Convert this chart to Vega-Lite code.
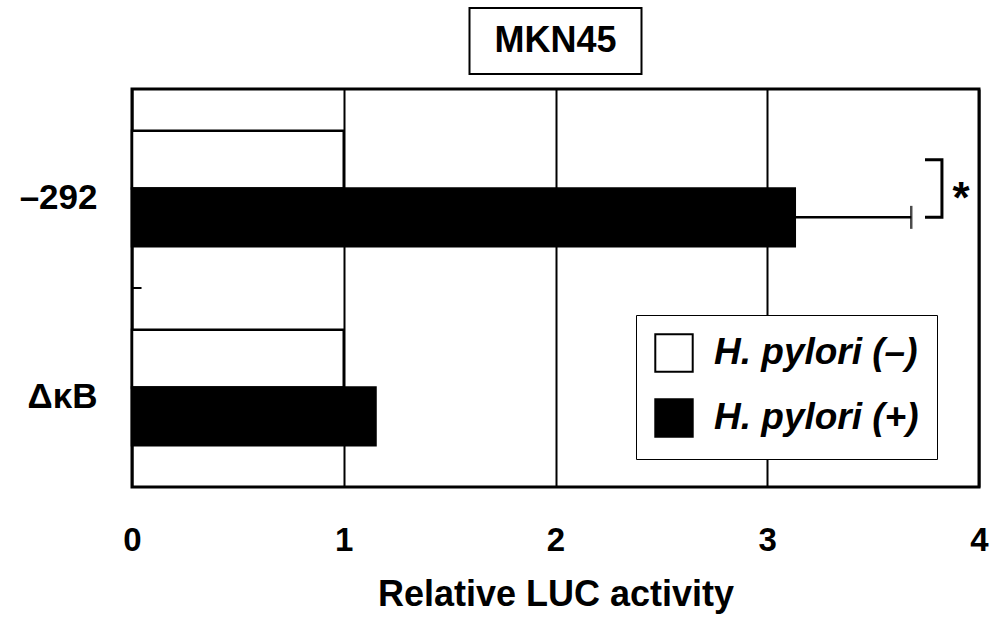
{
  "$schema": "https://vega.github.io/schema/vega-lite/v6.json",
  "padding": {"top": 7, "left": 17, "right": 5, "bottom": 5},
  "background": "white",
  "bounds": "flush",
  "center": true,
  "spacing": 15,
  "config": {
    "font": "Liberation Sans",
    "axis": {"labelFont": "Liberation Sans", "titleFont": "Liberation Sans", "labelColor": "black", "titleColor": "black"},
    "legend": {"labelFont": "Liberation Sans"}
  },
  "datasets": {
    "bars": [
      {"construct": "–292", "hp": "H. pylori (–)", "value": 1.0},
      {"construct": "–292", "hp": "H. pylori (+)", "value": 3.13, "upper": 3.68},
      {"construct": "ΔκB", "hp": "H. pylori (–)", "value": 1.0},
      {"construct": "ΔκB", "hp": "H. pylori (+)", "value": 1.15}
    ],
    "bracket": [
      {"construct": "–292", "hp": "H. pylori (–)", "x": 3.745, "ord": 1},
      {"construct": "–292", "hp": "H. pylori (–)", "x": 3.825, "ord": 2},
      {"construct": "–292", "hp": "H. pylori (+)", "x": 3.825, "ord": 3},
      {"construct": "–292", "hp": "H. pylori (+)", "x": 3.745, "ord": 4}
    ],
    "star": [{"construct": "–292", "x": 3.915, "label": "*"}],
    "midtick": [{"construct": "ΔκB"}],
    "title": [{"label": "MKN45"}]
  },
  "vconcat": [
    {
      "width": 172,
      "height": 66,
      "view": {"stroke": "black", "strokeWidth": 2, "fill": "white"},
      "data": {"name": "title"},
      "mark": {"type": "text", "fontSize": 36, "fontWeight": "bold", "font": "Liberation Sans", "align": "center", "baseline": "middle", "color": "black"},
      "encoding": {"text": {"field": "label"}}
    },
    {
      "width": 847,
      "height": 398,
      "view": {"stroke": "black", "strokeWidth": 3},
      "encoding": {
        "y": {
          "field": "construct", "type": "nominal",
          "scale": {"domain": ["–292", "ΔκB"], "paddingInner": 0, "paddingOuter": 0},
          "axis": {"title": null, "ticks": false, "tickSize": 0, "domain": false, "labelPadding": 35, "labelFontSize": 35, "labelFontWeight": "bold", "labelOffset": 9, "labelBaseline": "middle", "labelAngle": 0}
        }
      },
      "layer": [
        {
          "data": {"name": "bars"},
          "mark": {"type": "bar", "stroke": "black", "strokeWidth": 2.5},
          "encoding": {
            "x": {
              "field": "value", "type": "quantitative",
              "scale": {"domain": [0, 4], "nice": false, "zero": true},
              "axis": {"title": "Relative LUC activity", "values": [0, 1, 2, 3, 4], "format": "d", "grid": true, "gridColor": "black", "gridWidth": 2, "gridOpacity": 1, "ticks": false, "tickSize": 0, "domain": false, "labelPadding": 37, "labelFontSize": 33, "labelFontWeight": "bold", "labelFlush": false, "titleFontSize": 36, "titleFontWeight": "bold", "titlePadding": 20}
            },
            "yOffset": {"field": "hp", "type": "nominal", "scale": {"domain": ["H. pylori (–)", "H. pylori (+)"], "paddingInner": 0, "paddingOuter": 0.724}},
            "fill": {
              "field": "hp", "type": "nominal",
              "scale": {"domain": ["H. pylori (–)", "H. pylori (+)"], "range": ["white", "black"]},
              "legend": {"title": null, "orient": "none", "legendX": 504, "legendY": 307, "strokeColor": "black", "fillColor": "white", "padding": 18, "symbolType": "square", "symbolSize": 1400, "symbolStrokeColor": "black", "symbolStrokeWidth": 2, "labelFontSize": 37, "labelFontStyle": "italic", "labelFontWeight": "bold", "labelOffset": 20, "rowPadding": 19, "labelLimit": 400, "labelColor": "black"}
            }
          }
        },
        {
          "data": {"name": "bars"},
          "transform": [{"filter": "isValid(datum.upper)"}],
          "mark": {"type": "rule", "color": "black", "strokeWidth": 2.5},
          "encoding": {
            "x": {"field": "value", "type": "quantitative"},
            "x2": {"field": "upper"},
            "yOffset": {"field": "hp", "type": "nominal"}
          }
        },
        {
          "data": {"name": "bars"},
          "transform": [{"filter": "isValid(datum.upper)"}],
          "mark": {"type": "tick", "color": "black", "thickness": 2.5, "size": 23, "orient": "vertical"},
          "encoding": {
            "x": {"field": "upper", "type": "quantitative"},
            "yOffset": {"field": "hp", "type": "nominal"}
          }
        },
        {
          "data": {"name": "bracket"},
          "mark": {"type": "line", "color": "black", "strokeWidth": 3},
          "encoding": {
            "x": {"field": "x", "type": "quantitative"},
            "yOffset": {"field": "hp", "type": "nominal"},
            "order": {"field": "ord"}
          }
        },
        {
          "data": {"name": "star"},
          "mark": {"type": "text", "fontSize": 44, "fontWeight": "bold", "baseline": "middle", "align": "center", "dy": 11, "color": "black"},
          "encoding": {
            "x": {"field": "x", "type": "quantitative"},
            "text": {"field": "label"}
          }
        },
        {
          "data": {"name": "midtick"},
          "mark": {"type": "rule", "color": "black", "strokeWidth": 2},
          "encoding": {
            "y": {"field": "construct", "type": "nominal", "bandPosition": 0},
            "x": {"datum": 0},
            "x2": {"datum": 0.045}
          }
        }
      ]
    }
  ]
}
